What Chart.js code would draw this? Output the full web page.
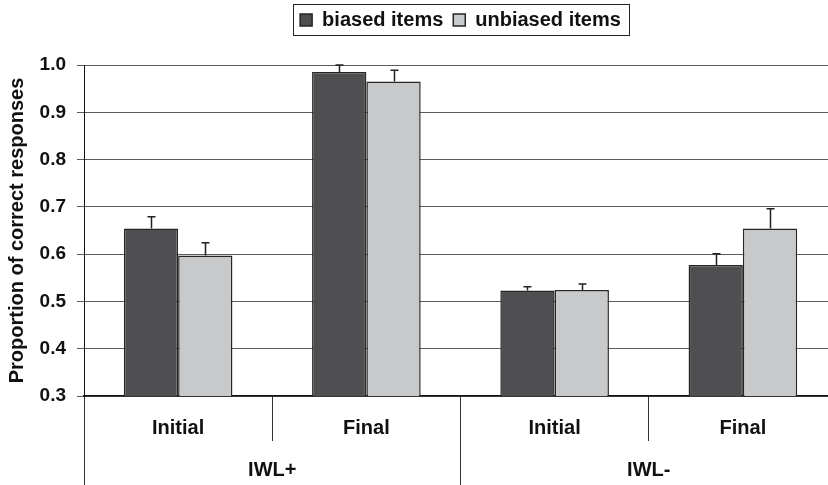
<!DOCTYPE html>
<html>
<head>
<meta charset="utf-8">
<script src="https://cdn.jsdelivr.net/npm/chart.js@4/dist/chart.umd.min.js"></script>
<style>
  html, body { margin: 0; padding: 0; background: #fff; overflow: hidden; }
  #wrap { width: 828px; height: 485px; overflow: hidden; position: relative; }
  canvas { display: block; }
</style>
</head>
<body>
<div id="wrap"><canvas id="c" width="838" height="485"></canvas></div>
<script>
// Phases within each condition, and the conditions they belong to
const phases = ['Initial', 'Final', 'Initial', 'Final'];
const conditions = ['IWL+', 'IWL-'];

// Mean proportion correct per phase
const biasedItems = [0.654, 0.985, 0.523, 0.577];
const unbiasedItems = [0.597, 0.965, 0.524, 0.654];

// Upper error bar lengths
const biasedErr = [0.025, 0.015, 0.008, 0.024];
const unbiasedErr = [0.027, 0.024, 0.013, 0.042];

const yTicks = [0.3, 0.4, 0.5, 0.6, 0.7, 0.8, 0.9, 1.0];

const FONT = "'Liberation Sans', Arial, Helvetica, sans-serif";
const INK = '#111111';

// Fixed-height legend band with a framed box around the entries
const legendFrame = {
  id: 'legendFrame',
  beforeLayout(chart) {
    const lg = chart.legend;
    if (lg && !lg._fixedFit) {
      const fit = lg.fit;
      lg.fit = function () { fit.call(this); this.height = 65; };
      lg._fixedFit = true;
    }
  },
  afterDraw(chart) {
    const lg = chart.legend;
    if (!lg || !lg.legendHitBoxes || !lg.legendHitBoxes.length) return;
    const hb = lg.legendHitBoxes;
    const first = hb[0], last = hb[hb.length - 1];
    const x0 = first.left - 7;
    const x1 = last.left + last.width + 8;
    const y0 = first.top - 6;
    const y1 = first.top + first.height + 5;
    const ctx = chart.ctx;
    ctx.save();
    ctx.strokeStyle = '#222';
    ctx.lineWidth = 1;
    ctx.strokeRect(Math.round(x0) + 0.5, Math.round(y0) + 0.5, Math.round(x1 - x0), Math.round(y1 - y0));
    ctx.restore();
  }
};

// Upper error bars with a small cap
const errorBars = {
  id: 'errorBars',
  afterDatasetsDraw(chart) {
    const ctx = chart.ctx;
    const y = chart.scales.y;
    const errs = [biasedErr, unbiasedErr];
    ctx.save();
    ctx.strokeStyle = '#222';
    ctx.lineWidth = 1.5;
    chart.data.datasets.forEach((ds, i) => {
      const meta = chart.getDatasetMeta(i);
      meta.data.forEach((bar, j) => {
        const top = y.getPixelForValue(ds.data[j]);
        const end = y.getPixelForValue(ds.data[j] + errs[i][j]);
        const x = Math.round(bar.x) + 0.5;
        ctx.beginPath();
        ctx.moveTo(x, top);
        ctx.lineTo(x, end);
        ctx.moveTo(x - 4, end);
        ctx.lineTo(x + 4, end);
        ctx.stroke();
      });
    });
    ctx.restore();
  }
};

new Chart(document.getElementById('c'), {
  type: 'bar',
  data: {
    labels: phases,
    datasets: [
      {
        label: 'biased items',
        data: biasedItems,
        backgroundColor: '#4f4f52',
        borderColor: '#262626',
        borderWidth: 1.5
      },
      {
        label: 'unbiased items',
        data: unbiasedItems,
        backgroundColor: '#c8c9cb',
        borderColor: '#262626',
        borderWidth: 1.5
      }
    ]
  },
  options: {
    responsive: false,
    animation: false,
    events: [],
    layout: { padding: { left: 0, right: 1, top: 0, bottom: 0 } },
    datasets: { bar: { categoryPercentage: 0.577, barPercentage: 1.0 } },
    plugins: {
      tooltip: { enabled: false },
      legend: {
        position: 'top',
        fullSize: false,
        align: 'center',
        labels: {
          boxWidth: 12,
          boxHeight: 12,
          padding: 10,
          color: INK,
          font: { family: FONT, size: 20, weight: 'bold' }
        }
      }
    },
    scales: {
      y: {
        min: 0.3,
        max: 1.0,
        afterFit(scale) { scale.width = 84; },
        afterBuildTicks(scale) { scale.ticks = yTicks.map(v => ({ value: v })); },
        ticks: {
          padding: 11,
          color: INK,
          font: { family: FONT, size: 19, weight: 'bold' },
          callback: v => Number(v).toFixed(1)
        },
        grid: { color: '#5c5c5c', lineWidth: 1, tickLength: 7 },
        border: { display: true, color: '#111', width: 1 },
        title: {
          display: true,
          text: 'Proportion of correct responses',
          color: INK,
          padding: { top: 5, bottom: 0 },
          font: { family: FONT, size: 20, weight: 'bold' }
        }
      },
      x: {
        position: 'bottom',
        afterFit(scale) { scale.height = 44; },
        ticks: {
          autoSkip: false,
          maxRotation: 0,
          padding: -25,
          color: INK,
          font: { family: FONT, size: 20, weight: 'bold' }
        },
        grid: {
          offset: true,
          drawOnChartArea: false,
          tickLength: 45,
          color: '#333',
          lineWidth: 1
        },
        border: { display: true, color: '#111', width: 1.5 }
      },
      x2: {
        type: 'category',
        position: 'bottom',
        labels: conditions,
        afterFit(scale) { scale.height = 45; },
        ticks: {
          autoSkip: false,
          maxRotation: 0,
          padding: -27,
          color: INK,
          font: { family: FONT, size: 20, weight: 'bold' }
        },
        grid: {
          offset: true,
          drawOnChartArea: false,
          tickLength: 45,
          color: '#333',
          lineWidth: 1
        },
        border: { display: false }
      }
    }
  },
  plugins: [legendFrame, errorBars]
});
</script>
</body>
</html>
